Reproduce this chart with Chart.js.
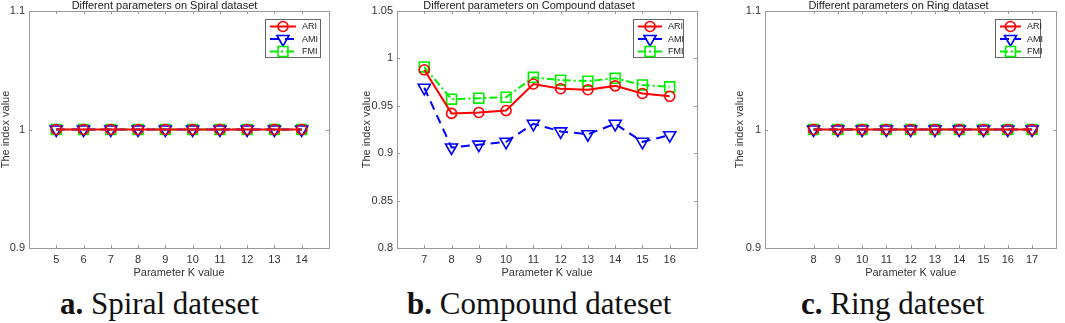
<!DOCTYPE html>
<html>
<head>
<meta charset="utf-8">
<script src="https://cdn.jsdelivr.net/npm/chart.js@4/dist/chart.umd.min.js"></script>
<style>
body{margin:0;background:#fff;width:1065px;height:323px;position:relative;overflow:hidden}
canvas{position:absolute;top:0}
.cap{position:absolute;top:287px;line-height:34px;font-family:"Liberation Serif","Times New Roman",serif;font-size:31px;color:#111;white-space:nowrap}
.cap b{font-weight:bold}
</style>
</head>
<body>
<canvas id="c1" width="345" height="285" style="left:0px"></canvas>
<canvas id="c2" width="354" height="285" style="left:361px"></canvas>
<canvas id="c3" width="331" height="285" style="left:734px"></canvas>
<div class="cap" style="left:60px"><b>a.</b> Spiral dateset</div>
<div class="cap" style="left:407px"><b>b.</b> Compound dateset</div>
<div class="cap" style="left:801px"><b>c.</b> Ring dateset</div>
<script>
// values
var kSpiral = [5, 6, 7, 8, 9, 10, 11, 12, 13, 14];
var ariSpiral = [1, 1, 1, 1, 1, 1, 1, 1, 1, 1];
var amiSpiral = [1, 1, 1, 1, 1, 1, 1, 1, 1, 1];
var fmiSpiral = [1, 1, 1, 1, 1, 1, 1, 1, 1, 1];

var kCompound = [7, 8, 9, 10, 11, 12, 13, 14, 15, 16];
var ariCompound = [0.988, 0.942, 0.943, 0.945, 0.973, 0.968, 0.967, 0.971, 0.963, 0.960];
var amiCompound = [0.969, 0.906, 0.909, 0.912, 0.931, 0.923, 0.920, 0.931, 0.912, 0.919];
var fmiCompound = [0.991, 0.957, 0.958, 0.959, 0.980, 0.977, 0.976, 0.979, 0.972, 0.970];

var kRing = [8, 9, 10, 11, 12, 13, 14, 15, 16, 17];
var ariRing = [1, 1, 1, 1, 1, 1, 1, 1, 1, 1];
var amiRing = [1, 1, 1, 1, 1, 1, 1, 1, 1, 1];
var fmiRing = [1, 1, 1, 1, 1, 1, 1, 1, 1, 1];

var yTicksSpiral = [0.9, 1, 1.1];
var yTicksCompound = [0.8, 0.85, 0.9, 0.95, 1, 1.05];
var yTicksRing = [0.9, 1, 1.1];

var seriesNames = ['ARI', 'AMI', 'FMI'];

var FONT = '"Liberation Sans", Arial, sans-serif';
var AXIS = '#9a9a9a';

function pts(ks, vs){
	var out = [];
	for(var i=0;i<ks.length;i++){ out.push({x: ks[i], y: vs[i]}); }
	return out;
}

// marker drawing (used for the legend)
function marker(ctx, style, x, y, r){
	ctx.beginPath();
	if(style=='circle'){
		ctx.arc(x, y, r, 0, Math.PI*2);
	} else if(style=='triangle'){
		var h = r*Math.sqrt(3)/2;
		ctx.moveTo(x, y + r);
		ctx.lineTo(x - h, y - r/2);
		ctx.lineTo(x + h, y - r/2);
		ctx.closePath();
	} else {
		var s = r*Math.SQRT1_2;
		ctx.rect(x - s, y - s, 2*s, 2*s);
	}
	ctx.stroke();
}

var boxPlugin = {
	id: 'boxTicks',
	beforeDatasetsDraw: function(chart){
		var ctx = chart.ctx, a = chart.chartArea;
		var xs = chart.scales.x, ys = chart.scales.y;
		ctx.save();
		ctx.strokeStyle = AXIS;
		ctx.lineWidth = 1;
		ctx.strokeRect(Math.round(a.left)+0.5, Math.round(a.top)+0.5, Math.round(a.right-a.left), Math.round(a.bottom-a.top));
		ctx.beginPath();
		xs.ticks.forEach(function(t){
			var px = Math.round(xs.getPixelForValue(t.value))+0.5;
			ctx.moveTo(px, a.bottom); ctx.lineTo(px, a.bottom-3);
			ctx.moveTo(px, a.top); ctx.lineTo(px, a.top+3);
		});
		ys.ticks.forEach(function(t){
			var py = Math.round(ys.getPixelForValue(t.value))+0.5;
			ctx.moveTo(a.left, py); ctx.lineTo(a.left+3, py);
			ctx.moveTo(a.right, py); ctx.lineTo(a.right-3, py);
		});
		ctx.stroke();
		ctx.restore();
	}
};

var legendPlugin = {
	id: 'boxLegend',
	afterDatasetsDraw: function(chart, args, opts){
		var ctx = chart.ctx, a = chart.chartArea;
		var w = opts.width, h = 38;
		var x = Math.round(a.right - opts.right - w), y = Math.round(a.top + 8);
		ctx.save();
		ctx.fillStyle = '#fff';
		ctx.fillRect(x, y, w, h);
		ctx.strokeStyle = '#666';
		ctx.lineWidth = 1;
		ctx.strokeRect(x+0.5, y+0.5, w, h);
		var len = Math.round(w*0.47);
		chart.data.datasets.forEach(function(ds, i){
			var cy = y + 7.5 + i*12.5;
			ctx.strokeStyle = ds.borderColor;
			ctx.lineWidth = ds.borderWidth;
			ctx.setLineDash(ds.borderDash || []);
			ctx.beginPath(); ctx.moveTo(x+5, cy); ctx.lineTo(x+5+len, cy); ctx.stroke();
			ctx.setLineDash([]);
			ctx.lineWidth = ds.pointBorderWidth;
			marker(ctx, ds.pointStyle, x+5+len/2, cy, ds.pointRadius);
			ctx.fillStyle = '#222';
			ctx.font = '9px ' + FONT;
			ctx.textBaseline = 'middle';
			ctx.fillText(ds.label, x+11+len, cy+0.5);
		});
		ctx.restore();
	}
};

function build_datasets(ks, ari, ami, fmi){
	return [{
		label: seriesNames[0], data: pts(ks, ari),
		borderColor: '#ff0000', borderWidth: 2, borderDash: [],
		pointStyle: 'circle', pointRadius: 5, pointBorderWidth: 1.6,
		pointBackgroundColor: 'rgba(0,0,0,0)', pointBorderColor: '#ff0000'
	},{
		label: seriesNames[1], data: pts(ks, ami),
		borderColor: '#0000ff', borderWidth: 2, borderDash: [9, 6],
		pointStyle: 'triangle', rotation: 180, pointRadius: 7, pointBorderWidth: 1.6,
		pointBackgroundColor: 'rgba(0,0,0,0)', pointBorderColor: '#0000ff'
	},{
		label: seriesNames[2], data: pts(ks, fmi),
		borderColor: '#00ee00', borderWidth: 2, borderDash: [8, 3, 2, 3],
		pointStyle: 'rect', pointRadius: 7, pointBorderWidth: 1.6,
		pointBackgroundColor: 'rgba(0,0,0,0)', pointBorderColor: '#00ee00'
	}];
}

function series_chart(id, title, ks, xmin, xmax, yTicks, yWidth, ari, ami, fmi, leg){
	var ctx = document.getElementById(id).getContext('2d');
	return new Chart(ctx, {
		type: 'line',
		data: { datasets: build_datasets(ks, ari, ami, fmi) },
		plugins: [boxPlugin, legendPlugin],
		options: {
			responsive: false,
			animation: false,
			events: [],
			layout: { padding: { left: 0, right: leg.pad, top: 0, bottom: 0 } },
			plugins: {
				legend: { display: false },
				tooltip: { enabled: false },
				title: {
					display: true, text: title, color: '#222',
					font: { family: FONT, size: 11, weight: 'normal', lineHeight: 1 },
					padding: { top: 0, bottom: 0 }
				},
				boxLegend: { width: leg.width, right: leg.right }
			},
			scales: {
				x: {
					type: 'linear', min: xmin, max: xmax,
					grid: { display: false, drawTicks: false },
					border: { display: false },
					ticks: { stepSize: 1, autoSkip: false, maxRotation: 0, padding: 5, color: '#333', font: { family: FONT, size: 11 } },
					afterBuildTicks: function(s){ s.ticks = ks.map(function(v){ return {value: v}; }); },
					afterFit: function(s){ s.height = 37; },
					title: { display: true, text: 'Parameter K value', color: '#333', font: { family: FONT, size: 11, lineHeight: 1 }, padding: { top: 0, bottom: 7 } }
				},
				y: {
					min: yTicks[0], max: yTicks[yTicks.length-1],
					grid: { display: false, drawTicks: false },
					border: { display: false },
					ticks: {
						padding: 4, color: '#333', font: { family: FONT, size: 11 },
						callback: function(v){ return String(+(+v).toFixed(2)); }
					},
					afterBuildTicks: function(s){ s.ticks = yTicks.map(function(v){ return {value: v}; }); },
					afterFit: function(s){ s.width = yWidth; },
					title: { display: true, text: 'The index value', color: '#333', font: { family: FONT, size: 11, lineHeight: 1 }, padding: { top: 0, bottom: 0 } }
				}
			}
		}
	});
}

series_chart('c1', 'Different parameters on Spiral dataset', kSpiral, 4, 15, yTicksSpiral, 29,
	ariSpiral, amiSpiral, fmiSpiral, { pad: 16, width: 55, right: 9 });
series_chart('c2', 'Different parameters on Compound dataset', kCompound, 6, 17, yTicksCompound, 36,
	ariCompound, amiCompound, fmiCompound, { pad: 18, width: 50, right: 14 });
series_chart('c3', 'Different parameters on Ring dataset', kRing, 6, 18, yTicksRing, 31,
	ariRing, amiRing, fmiRing, { pad: 2, width: 45, right: 16 });
</script>
</body>
</html>
